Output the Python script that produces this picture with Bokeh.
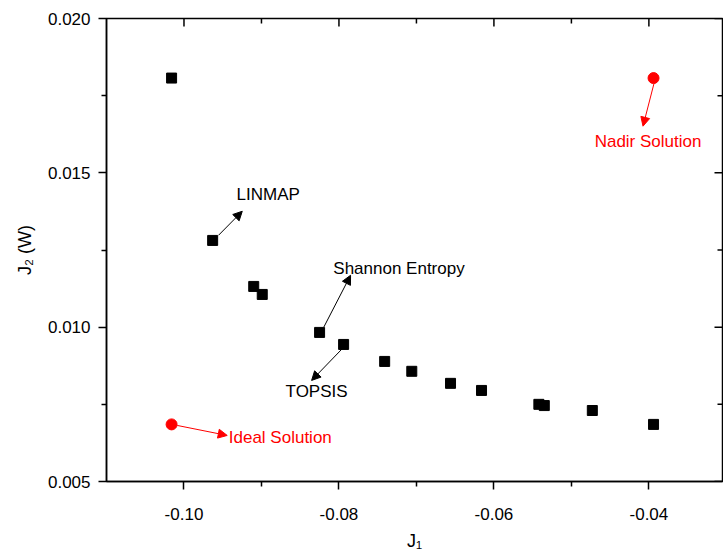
import math
from bokeh.plotting import figure
from bokeh.models import (FixedTicker, NumeralTickFormatter, Range1d,
                          Arrow, NormalHead, ColumnDataSource)
from bokeh.core.properties import value
from bokeh.embed import file_html
from bokeh.resources import INLINE

# Pareto front (J1, J2)
j1 = [-0.1016, -0.0963, -0.0910, -0.0899, -0.0825, -0.0794, -0.0741,
      -0.0706, -0.0656, -0.0616, -0.0542, -0.0535, -0.0473, -0.0394]
j2 = [0.01807, 0.01281, 0.01132, 0.01106, 0.00983, 0.00944, 0.00889,
      0.00857, 0.00818, 0.00795, 0.00750, 0.00746, 0.00730, 0.00685]

# Ideal and nadir points
ref_names = ["Ideal Solution", "Nadir Solution"]
ref_x = [min(j1), max(j1)]
ref_y = [min(j2), max(j2)]

# Annotations
ann_text = ["LINMAP", "Shannon Entropy", "TOPSIS", "Ideal Solution", "Nadir Solution"]
ann_x = [-0.09322, -0.08073, -0.08689, -0.09422, -0.0470]
ann_y = [0.01431, 0.01190, 0.00790, 0.00644, 0.01600]
ann_color = ["black", "black", "black", "#ff0000", "#ff0000"]
arr_x0 = [-0.09554, -0.08195, -0.07957, -0.10087, -0.03934]
arr_y0 = [0.012977, 0.010003, 0.009303, 0.006816, 0.017896]
arr_x1 = [-0.09248, -0.07850, -0.08353, -0.09442, -0.04076]
arr_y1 = [0.013755, 0.011680, 0.008275, 0.006492, 0.016511]

x_ticks = [-0.10, -0.08, -0.06, -0.04]
x_minor = [-0.09, -0.07, -0.05]
y_ticks = [0.005, 0.010, 0.015, 0.020]
y_minor = [0.0075, 0.0125, 0.0175]
x_lim = [-0.11, -0.0305]
y_lim = [0.005, 0.020]

FONT = "Liberation Sans"

p = figure(width=723, height=558, output_backend="svg", toolbar_location=None,
           x_range=Range1d(*x_lim), y_range=Range1d(*y_lim),
           min_border_left=106, min_border_right=1, min_border_top=18,
           min_border_bottom=77, x_axis_label="J\u2081", y_axis_label="J\u2082 (W)")
p.background_fill_color = "white"
p.border_fill_color = "white"
p.outline_line_color = "black"
p.outline_line_width = 1.5
p.xgrid.visible = False
p.ygrid.visible = False

for ax, ticks, minor, fmt in [(p.xaxis[0], x_ticks, x_minor, "0.00"),
                              (p.yaxis[0], y_ticks, y_minor, "0.000")]:
    ax.ticker = FixedTicker(ticks=ticks, minor_ticks=minor)
    ax.formatter = NumeralTickFormatter(format=fmt)
    ax.axis_line_width = 1.5
    ax.axis_line_color = "black"
    ax.major_tick_line_width = 1.5
    ax.minor_tick_line_width = 1.5
    ax.major_tick_line_color = "black"
    ax.minor_tick_line_color = "black"
    ax.major_tick_in, ax.major_tick_out = 0, 8
    ax.minor_tick_in, ax.minor_tick_out = 0, 5
    ax.major_label_text_font = FONT
    ax.major_label_text_font_size = "17px"
    ax.major_label_text_color = "black"
    ax.axis_label_text_font = FONT
    ax.axis_label_text_font_size = "18px"
    ax.axis_label_text_font_style = "normal"
    ax.axis_label_text_color = "black"

p.xaxis[0].major_label_standoff = 18
p.xaxis[0].axis_label_standoff = 8
p.yaxis[0].major_label_standoff = 8
p.yaxis[0].axis_label_standoff = 10

# inward ticks on the top and right frame edges (half of each dash is clipped by the frame)
p.scatter(x_ticks, [y_lim[1]] * len(x_ticks), marker="dash", angle=math.pi / 2,
          size=16, line_color="black", line_width=1.5)
p.scatter(x_minor, [y_lim[1]] * len(x_minor), marker="dash", angle=math.pi / 2,
          size=10, line_color="black", line_width=1.5)
p.scatter([x_lim[1]] * len(y_ticks), y_ticks, marker="dash", size=16,
          line_color="black", line_width=1.5)
p.scatter([x_lim[1]] * len(y_minor), y_minor, marker="dash", size=10,
          line_color="black", line_width=1.5)

# Pareto points
p.scatter(j1, j2, marker="square", size=10, fill_color="black", line_color="black")
# Ideal / nadir points
p.scatter(ref_x, ref_y, marker="circle", size=11, fill_color="#ff0000", line_color="#ff0000")

# Arrows
for i in range(len(ann_text)):
    p.add_layout(Arrow(end=NormalHead(size=9, fill_color=ann_color[i], line_color=ann_color[i],
                                      line_width=1),
                       x_start=arr_x0[i], y_start=arr_y0[i], x_end=arr_x1[i], y_end=arr_y1[i],
                       line_color=ann_color[i], line_width=1))

src = ColumnDataSource(dict(x=ann_x, y=ann_y, t=ann_text, c=ann_color))
p.text(x="x", y="y", text="t", text_color="c", source=src, text_font=value(FONT),
       text_font_size="17px", text_baseline="middle", text_align="left")

open("out.html", "w").write(file_html(p, INLINE))
